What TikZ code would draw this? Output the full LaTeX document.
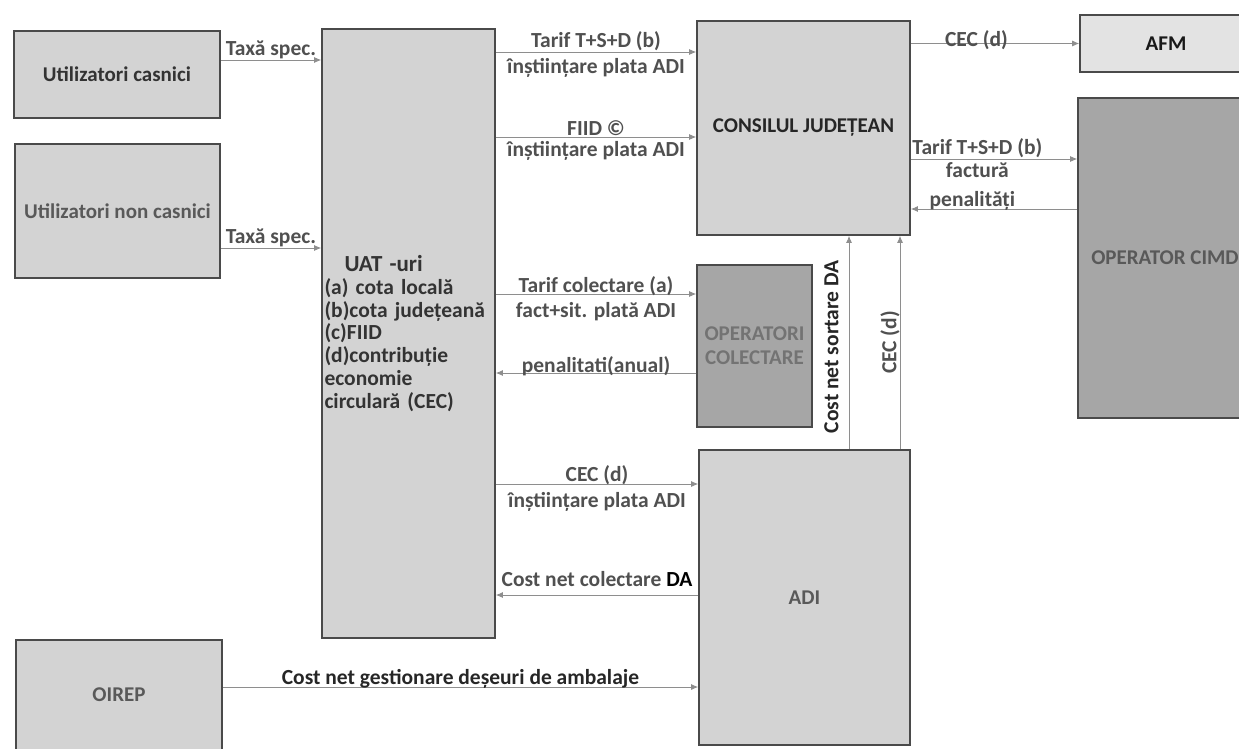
\documentclass[tikz,border=0pt]{standalone}
\usepackage{fontspec}
\setmainfont{Carlito}
\usepackage{tikz}
\usetikzlibrary{arrows.meta,positioning,calc}
\definecolor{boxfill}{HTML}{D3D3D3}
\definecolor{darkfill}{HTML}{A6A6A6}
\definecolor{lightfill}{HTML}{E3E3E3}
\definecolor{edge}{HTML}{4A4A4A}
\definecolor{linkcol}{HTML}{8E8E8E}
\definecolor{labtext}{HTML}{505050}

\begin{document}
\begin{tikzpicture}[
    x=1pt,y=-1pt,
    every node/.style={font=\bfseries\fontsize{21}{24}\selectfont},
    box/.style={draw=edge,line width=1.6pt,fill=boxfill,align=center,inner sep=2pt,text=black!80},
    link/.style={-{Latex[length=7pt,width=6pt]},line width=0.9pt,linkcol},
    lab/.style={font=\bfseries\fontsize{21.5}{24}\selectfont,text=labtext,inner sep=1pt}
]
\useasboundingbox (0,0) rectangle (1239,749);

% Users
\node[box,minimum width=206pt,minimum height=87pt]  (casnici) at (117,74.5) {Utilizatori casnici};
\node[box,minimum width=205pt,minimum height=134pt,text=black!65] (noncasnici) at (117.5,211) {Utilizatori non casnici};

% Municipalities
\node[box,minimum width=173pt,minimum height=609pt,align=left,text width=168pt,
      font=\bfseries\fontsize{21.5}{22.7}\selectfont] (uat) at (408.5,333.5)
    {\hspace*{20pt}{\fontsize{23}{25}\selectfont UAT -uri}\\(a) cota locală\\(b)cota județeană\\(c)FIID\\(d)contribuție\\economie\\circulară (CEC)};

% County level
\node[box,minimum width=213pt,minimum height=214pt,text=black!85] (cj) at (803.5,128) {CONSILUL JUDEȚEAN};
\node[box,minimum width=172pt,minimum height=57pt,fill=lightfill,text=black!90] (afm) at (1166,43.5) {AFM};
\node[box,minimum width=174pt,minimum height=320pt,fill=darkfill,text=black!65] (cimd) at (1165,258) {OPERATOR CIMD};

% Collection and ADI
\node[box,minimum width=115pt,minimum height=162pt,fill=darkfill,text=black!55] (opcol) at (754.5,346) {OPERATORI\\COLECTARE};
\node[box,minimum width=211pt,minimum height=295pt,text=black!65] (adi) at (804.5,597.5) {ADI};
\node[box,minimum width=206pt,minimum height=130pt,text depth=20pt,text=black!65] (oirep) at (119,705) {OIREP};

% Fees to UAT
\draw[link] ([yshift=14.5pt]casnici.east) -- ([yshift=14.5pt]casnici.east -| uat.west)
    node[midway,above,lab] {Taxă spec.};
\draw[link] ([yshift=-37pt]noncasnici.east) -- ([yshift=-37pt]noncasnici.east -| uat.west)
    node[midway,above,lab] {Taxă spec.};

% UAT to county council
\draw[link] ([yshift=76pt]cj.west -| uat.east) -- ([yshift=76pt]cj.west)
    node[midway,above,lab] {Tarif T+S+D (b)}
    node[midway,below=5pt,lab] {înștiințare plata ADI};
\draw[link] ([yshift=-9pt]cj.west -| uat.east) -- ([yshift=-9pt]cj.west)
    node[midway,above,lab] {FIID ©}
    node[midway,below=3pt,lab] {înștiințare plata ADI};

% County council to AFM and CIMD
\draw[link] (afm.west -| cj.east) -- (afm.west)
    node[pos=0.39,above=-8pt,lab] {CEC (d)};
\draw[link] ([yshift=99pt]cimd.west -| cj.east) -- ([yshift=99pt]cimd.west)
    node[pos=0.4,above,lab] {Tarif T+S+D (b)}
    node[pos=0.4,below=2pt,lab] {factură};
\draw[link] ([yshift=49pt]cimd.west) -- ([yshift=49pt]cimd.west -| cj.east)
    node[pos=0.63,above=-3pt,lab] {penalități};

% Collection operators
\draw[link] ([yshift=52pt]opcol.west -| uat.east) -- ([yshift=52pt]opcol.west)
    node[midway,above=-3pt,lab] {Tarif colectare (a)}
    node[midway,below=7pt,lab] {fact+sit. plată ADI};
\draw[link] ([yshift=-27pt]opcol.west) -- ([yshift=-27pt]opcol.west -| uat.east)
    node[midway,above=-4pt,lab] {penalitati(anual)};

% ADI links
\draw[link] ([yshift=113.5pt]adi.west -| uat.east) -- ([yshift=113.5pt]adi.west)
    node[midway,above=-2pt,lab] {CEC (d)}
    node[midway,below=7pt,lab] {înștiințare plata ADI};
\draw[link] ([yshift=2.5pt]adi.west) -- ([yshift=2.5pt]adi.west -| uat.east)
    node[midway,above=7pt,lab] {Cost net colectare \textcolor{black}{DA}};
\draw[link] ([yshift=18pt]oirep.east) -- ([yshift=18pt]oirep.east -| adi.west)
    node[midway,above=-3pt,lab,text=black!85] {Cost net gestionare deșeuri de ambalaje};
\draw[link] ([xshift=44.5pt]adi.north) -- ([xshift=44.5pt]adi.north |- cj.south)
    node[pos=0.48,sloped,above=9pt,lab,text=black!85] {Cost net sortare DA};
\draw[link] ([xshift=95.5pt]adi.north) -- ([xshift=95.5pt]adi.north |- cj.south)
    node[midway,sloped,above=-1pt,lab] {CEC (d)};
\end{tikzpicture}
\end{document}
